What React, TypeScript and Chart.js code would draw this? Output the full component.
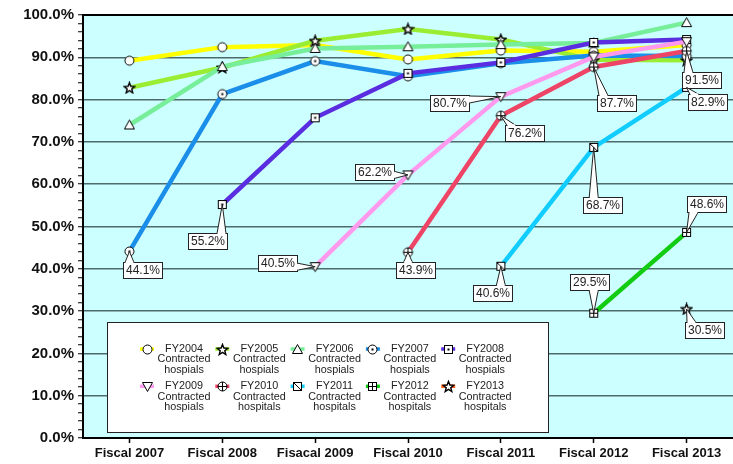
import React, { useEffect, useRef } from "react";
import { Chart, registerables } from "chart.js";

Chart.register(...registerables);

// Fiscal years on the x axis
const fiscalYears = ["Fiscal 2007", "Fiscal 2008", "Fisacal 2009", "Fiscal 2010", "Fiscal 2011", "Fiscal 2012", "Fiscal 2013"];

// Share (%) per cohort of contracted hospitals
const fy2004 = [89.2, 92.4, 92.9, 89.5, 91.6, 91.3, 92.9];
const fy2005 = [82.8, 87.6, 93.9, 96.7, 94.2, 89.4, 89.3];
const fy2006 = [74.0, 87.8, 92.1, 92.5, 93.0, 93.4, 98.2];
const fy2007 = [44.1, 81.3, 89.1, 85.5, 88.6, 90.4, 90.3];
const fy2008 = [null, 55.2, 75.7, 86.2, 88.8, 93.5, 94.2];
const fy2009 = [null, null, 40.5, 62.2, 80.7, 90.1, 93.7];
const fy2010 = [null, null, null, 43.9, 76.2, 87.7, 91.5];
const fy2011 = [null, null, null, null, 40.6, 68.7, 82.9];
const fy2012 = [null, null, null, null, null, 29.5, 48.6];
const fy2013 = [null, null, null, null, null, null, 30.5];

const seriesNames = [
  ["FY2004", "Contracted", "hospials"],
  ["FY2005", "Contracted", "hospials"],
  ["FY2006", "Contracted", "hospials"],
  ["FY2007", "Contracted", "hospials"],
  ["FY2008", "Contracted", "hospials"],
  ["FY2009", "Contracted", "hospials"],
  ["FY2010", "Contracted", "hospitals"],
  ["FY2011", "Contracted", "hospitals"],
  ["FY2012", "Contracted", "hospitals"],
  ["FY2013", "Contracted", "hospitals"],
];

const seriesValues = [fy2004, fy2005, fy2006, fy2007, fy2008, fy2009, fy2010, fy2011, fy2012, fy2013];

const seriesColors = [
  "#ffff00", "#99ee33", "#77ee99", "#1a8ee8", "#5a2ee0",
  "#ff99ee", "#ee4466", "#11ccff", "#11cc11", "#ff6622",
];

type MarkerKind = "circle" | "star" | "triangle" | "circleDot" | "squareDot" | "triangleDown" | "circlePlus" | "squareDiag" | "squareGrid";
const seriesMarkers: MarkerKind[] = [
  "circle", "star", "triangle", "circleDot", "squareDot",
  "triangleDown", "circlePlus", "squareDiag", "squareGrid", "star",
];

// Value callouts: [series index, category index, box offset x, box offset y]
const callouts: [number, number, number, number][] = [
  [3, 0, 13, 19],
  [4, 1, -15, 36],
  [5, 2, -38, -4],
  [5, 3, -34, -3],
  [6, 3, 7, 18],
  [5, 4, -51, 6],
  [6, 4, 24, 17],
  [6, 5, 23, 36],
  [7, 5, 9, 58],
  [7, 4, -8, 27],
  [8, 5, -4, -31],
  [8, 6, 20, -28],
  [6, 6, 15, 29],
  [7, 6, 21, 15],
  [9, 6, 18, 21],
];

function makeMarker(kind: MarkerKind): HTMLCanvasElement {
  const c = document.createElement("canvas");
  c.width = 13;
  c.height = 13;
  const g = c.getContext("2d")!;
  const m = 6.5;
  g.lineWidth = 1;
  g.strokeStyle = "#000";
  g.fillStyle = "#fff";
  const circle = () => {
    g.beginPath();
    g.arc(m, m, 4.5, 0, Math.PI * 2);
    g.fill();
    g.stroke();
  };
  const square = () => {
    g.fillRect(2, 2, 9, 9);
    g.strokeRect(2.5, 2.5, 8, 8);
  };
  const line = (x1: number, y1: number, x2: number, y2: number) => {
    g.beginPath();
    g.moveTo(x1, y1);
    g.lineTo(x2, y2);
    g.stroke();
  };
  switch (kind) {
    case "circle":
      circle();
      break;
    case "circleDot":
      circle();
      g.fillStyle = "#000";
      g.fillRect(5.5, 5.5, 2, 2);
      break;
    case "circlePlus":
      circle();
      line(2, m, 11, m);
      line(m, 2, m, 11);
      break;
    case "triangle":
      g.beginPath();
      g.moveTo(m, 1.5);
      g.lineTo(11.5, 10.5);
      g.lineTo(1.5, 10.5);
      g.closePath();
      g.fill();
      g.stroke();
      break;
    case "triangleDown":
      g.beginPath();
      g.moveTo(1.5, 2.5);
      g.lineTo(11.5, 2.5);
      g.lineTo(m, 11.5);
      g.closePath();
      g.fill();
      g.stroke();
      break;
    case "squareDot":
      square();
      g.fillStyle = "#000";
      g.fillRect(5.5, 5.5, 2, 2);
      break;
    case "squareDiag":
      square();
      line(2.5, 2.5, 10.5, 10.5);
      break;
    case "squareGrid":
      square();
      line(2.5, m, 10.5, m);
      line(m, 2.5, m, 10.5);
      break;
    case "star": {
      g.beginPath();
      for (let k = 0; k < 10; k++) {
        const r = k % 2 === 0 ? 5.6 : 2.4;
        const a = -Math.PI / 2 + (k * Math.PI) / 5;
        const x = m + r * Math.cos(a);
        const y = m + 0.5 + r * Math.sin(a);
        if (k === 0) g.moveTo(x, y);
        else g.lineTo(x, y);
      }
      g.closePath();
      g.fill();
      g.lineWidth = 1.4;
      g.stroke();
      break;
    }
  }
  return c;
}

const plotFrame = {
  id: "plotFrame",
  beforeDatasetsDraw(chart: any) {
    const { ctx, chartArea: a } = chart;
    ctx.save();
    ctx.globalCompositeOperation = "destination-over";
    ctx.fillStyle = "#ccffff";
    ctx.fillRect(a.left, a.top, a.right - a.left, a.bottom - a.top);
    ctx.restore();
  },
  afterDatasetsDraw(chart: any) {
    const { ctx, chartArea: a } = chart;
    ctx.save();
    ctx.strokeStyle = "#000";
    ctx.lineWidth = 2;
    ctx.beginPath();
    ctx.moveTo(a.left, a.top);
    ctx.lineTo(a.right, a.top);
    ctx.stroke();
    ctx.restore();
  },
};

function drawCallout(ctx: CanvasRenderingContext2D, px: number, py: number, cx: number, cy: number, text: string) {
  ctx.font = '12px "Liberation Sans", Arial, sans-serif';
  const w = Math.round(ctx.measureText(text).width + 5);
  const h = 16;
  const x0 = Math.round(cx - w / 2) + 0.5;
  const y0 = Math.round(cy - h / 2) + 0.5;
  const clamp = (v: number, lo: number, hi: number) => Math.max(lo, Math.min(hi, v));
  let b1: [number, number], b2: [number, number];
  let horizontalEdge = true;
  if (py < y0) {
    const bx = clamp(px, x0 + 6, x0 + w - 6);
    b1 = [bx - 4.5, y0];
    b2 = [bx + 4.5, y0];
  } else if (py > y0 + h) {
    const bx = clamp(px, x0 + 6, x0 + w - 6);
    b1 = [bx - 4.5, y0 + h];
    b2 = [bx + 4.5, y0 + h];
  } else if (px < x0) {
    horizontalEdge = false;
    const by = clamp(py, y0 + 4, y0 + h - 4);
    b1 = [x0, by - 3.5];
    b2 = [x0, by + 3.5];
  } else {
    horizontalEdge = false;
    const by = clamp(py, y0 + 4, y0 + h - 4);
    b1 = [x0 + w, by - 3.5];
    b2 = [x0 + w, by + 3.5];
  }
  ctx.save();
  ctx.lineWidth = 1;
  ctx.strokeStyle = "#222";
  ctx.fillStyle = "#fff";
  ctx.fillRect(x0, y0, w, h);
  ctx.strokeRect(x0, y0, w, h);
  ctx.beginPath();
  ctx.moveTo(b1[0], b1[1]);
  ctx.lineTo(px, py);
  ctx.lineTo(b2[0], b2[1]);
  ctx.closePath();
  ctx.fill();
  ctx.beginPath();
  ctx.moveTo(b1[0], b1[1]);
  ctx.lineTo(px, py);
  ctx.lineTo(b2[0], b2[1]);
  ctx.stroke();
  if (horizontalEdge) {
    ctx.fillRect(b1[0] + 0.8, b1[1] - 1.2, b2[0] - b1[0] - 1.6, 2.4);
  } else {
    ctx.fillRect(b1[0] - 1.2, b1[1] + 0.8, 2.4, b2[1] - b1[1] - 1.6);
  }
  ctx.fillStyle = "#222";
  ctx.textAlign = "center";
  ctx.textBaseline = "middle";
  ctx.fillText(text, x0 + w / 2, y0 + h / 2 + 0.5);
  ctx.restore();
}

const valueCallouts = {
  id: "valueCallouts",
  afterDatasetsDraw(chart: any) {
    const { ctx } = chart;
    const xs = chart.scales.x;
    const ys = chart.scales.y;
    callouts.forEach(([s, i, dx, dy]) => {
      const v = seriesValues[s][i] as number;
      const px = xs.getPixelForValue(i);
      const py = ys.getPixelForValue(v);
      drawCallout(ctx, px, py, px + dx, py + dy, v.toFixed(1) + "%");
    });
  },
};

const boxedLegend = {
  id: "boxedLegend",
  afterDatasetsDraw(chart: any) {
    const { ctx } = chart;
    const left = 107.5, top = 322.5, right = 548.5, bottom = 432.5;
    ctx.save();
    ctx.fillStyle = "#fff";
    ctx.fillRect(left, top, right - left, bottom - top);
    ctx.strokeStyle = "#222";
    ctx.lineWidth = 1;
    ctx.strokeRect(left, top, right - left, bottom - top);
    ctx.font = '10.8px "Liberation Sans", Arial, sans-serif';
    ctx.textAlign = "center";
    ctx.textBaseline = "middle";
    chart.data.datasets.forEach((ds: any, i: number) => {
      const row = i < 5 ? 0 : 1;
      const col = i % 5;
      const mx = 147 + col * 75.3;
      const tx = 184 + col * 75.3;
      const ry = row === 0 ? 349 : 386.3;
      ctx.strokeStyle = ds.borderColor;
      ctx.lineWidth = 3.5;
      ctx.beginPath();
      ctx.moveTo(mx - 7, ry);
      ctx.lineTo(mx + 7, ry);
      ctx.stroke();
      const img = ds.pointStyle as HTMLCanvasElement;
      ctx.drawImage(img, Math.round(mx - img.width / 2), Math.round(ry - img.height / 2));
      ctx.fillStyle = "#222";
      seriesNames[i].forEach((t, k) => ctx.fillText(t, tx, ry + k * 10.3));
    });
    ctx.restore();
  },
};

export default function App() {
  const ref = useRef<HTMLCanvasElement>(null);

  useEffect(() => {
    if (!ref.current) return;
    const markers = seriesMarkers.map(makeMarker);
    const chart = new Chart(ref.current, {
      type: "line",
      data: {
        labels: fiscalYears,
        datasets: seriesValues.map((vals, i) => ({
          label: seriesNames[i].join(" "),
          data: vals,
          borderColor: seriesColors[i],
          backgroundColor: "#fff",
          borderWidth: 4.5,
          pointStyle: markers[i],
          pointRadius: 5,
          tension: 0,
          spanGaps: false,
          order: 10 - i,
        })),
      },
      options: {
        animation: false,
        responsive: false,
        maintainAspectRatio: false,
        layout: { autoPadding: false, padding: { top: 15, right: 0, left: 0, bottom: 0 } },
        plugins: {
          legend: { display: false },
          tooltip: { enabled: false },
        },
        scales: {
          x: {
            type: "category",
            offset: true,
            grid: {
              display: true,
              drawOnChartArea: false,
              offset: false,
              tickLength: 5,
              tickColor: "#000",
              tickWidth: 1.5,
            },
            border: { display: true, color: "#000", width: 2 },
            ticks: {
              color: "#111",
              font: { family: '"Liberation Sans", Arial, sans-serif', size: 13, weight: "bold" },
              padding: 3,
              maxRotation: 0,
              autoSkip: false,
            },
            afterFit: (s: any) => {
              s.height = 26;
              s.paddingLeft = 0;
              s.paddingRight = 0;
            },
          },
          y: {
            min: 0,
            max: 100,
            grid: {
              color: (c: any) => {
                const v = c.tick?.value;
                return v % 10 === 0 && v !== 0 && v !== 100 ? "#4f6a6a" : "rgba(0,0,0,0)";
              },
              lineWidth: 1.5,
              tickColor: "#000",
              tickLength: 5,
              tickWidth: 1,
            },
            border: { display: true, color: "#000", width: 2 },
            ticks: {
              stepSize: 2,
              autoSkip: false,
              color: "#111",
              padding: 4,
              font: { family: '"Liberation Sans", Arial, sans-serif', size: 15, weight: "bold" },
              callback: (v: any) => (Number(v) % 10 === 0 ? Number(v).toFixed(1) + "%" : ""),
            },
            afterFit: (s: any) => {
              s.width = 83;
            },
          },
        },
      },
      plugins: [plotFrame, valueCallouts, boxedLegend],
    });
    return () => chart.destroy();
  }, []);

  return (
    <div style={{ position: "fixed", left: 0, top: 0, width: 733, height: 464, background: "#fff" }}>
      <canvas ref={ref} width={733} height={464} style={{ display: "block" }} />
    </div>
  );
}
